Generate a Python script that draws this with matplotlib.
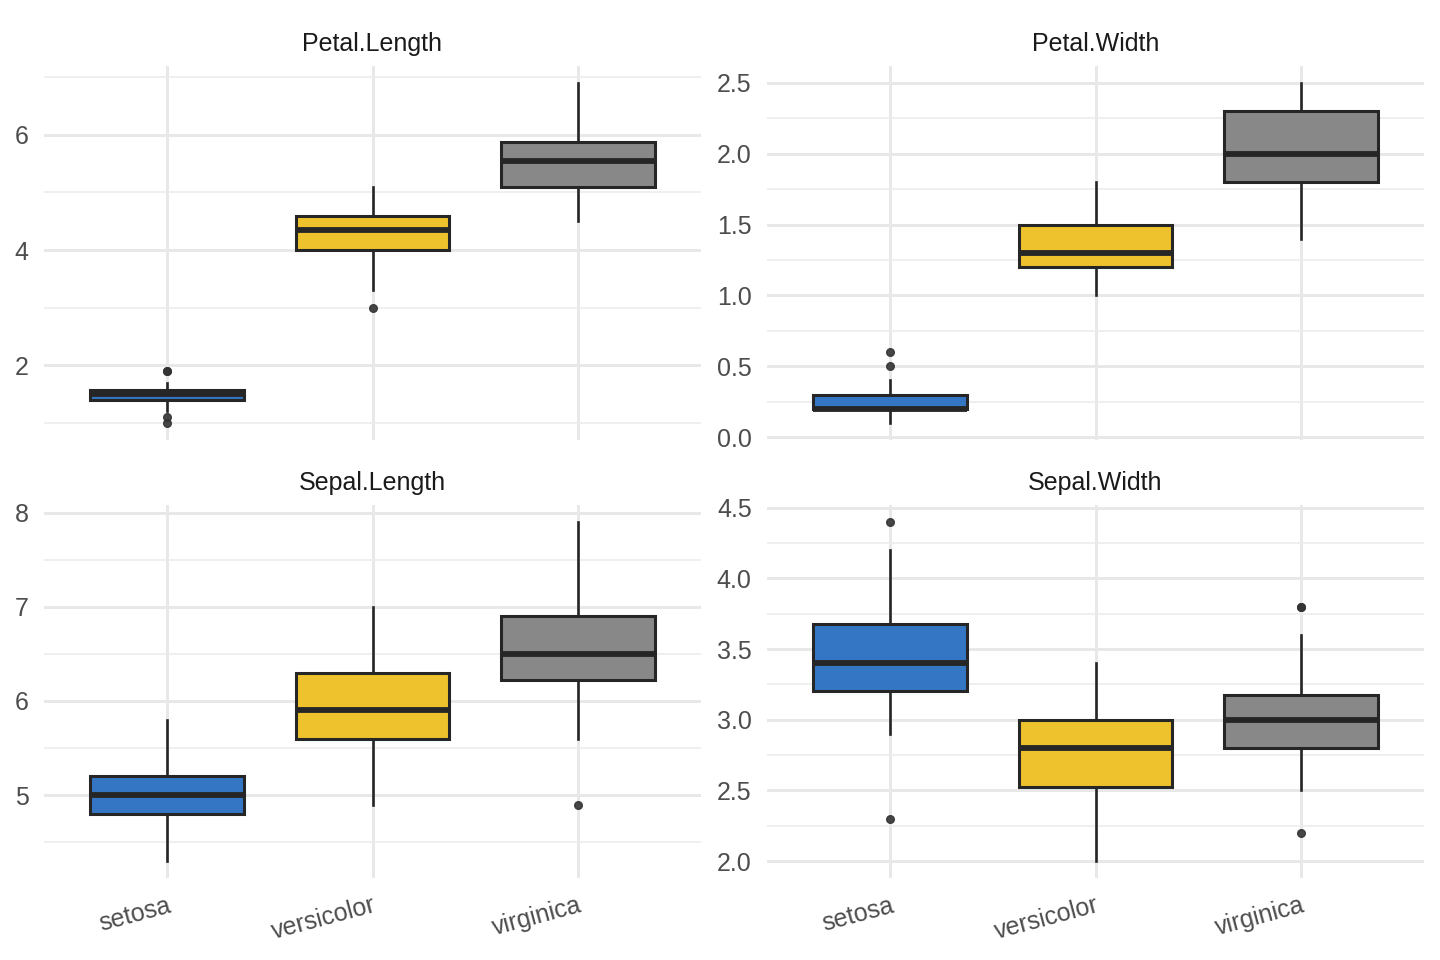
import matplotlib
matplotlib.use("Agg")
import matplotlib.pyplot as plt
from matplotlib.ticker import MultipleLocator

plt.rcParams['font.family'] = ['Liberation Sans', 'DejaVu Sans']

species = ['setosa', 'versicolor', 'virginica']
colors = ['#3576C4', '#EEC22C', '#888888']

# per measure: q1, median, q3, whisker low, whisker high, outliers (per species)
petal_length_q1 = [1.4, 4.0, 5.1]
petal_length_med = [1.5, 4.35, 5.55]
petal_length_q3 = [1.575, 4.6, 5.875]
petal_length_lo = [1.2, 3.3, 4.5]
petal_length_hi = [1.7, 5.1, 6.9]
petal_length_out = [[1.0, 1.1, 1.9, 1.9], [3.0], []]

petal_width_q1 = [0.2, 1.2, 1.8]
petal_width_med = [0.2, 1.3, 2.0]
petal_width_q3 = [0.3, 1.5, 2.3]
petal_width_lo = [0.1, 1.0, 1.4]
petal_width_hi = [0.4, 1.8, 2.5]
petal_width_out = [[0.5, 0.6], [], []]

sepal_length_q1 = [4.8, 5.6, 6.225]
sepal_length_med = [5.0, 5.9, 6.5]
sepal_length_q3 = [5.2, 6.3, 6.9]
sepal_length_lo = [4.3, 4.9, 5.6]
sepal_length_hi = [5.8, 7.0, 7.9]
sepal_length_out = [[], [], [4.9]]

sepal_width_q1 = [3.2, 2.525, 2.8]
sepal_width_med = [3.4, 2.8, 3.0]
sepal_width_q3 = [3.675, 3.0, 3.175]
sepal_width_lo = [2.9, 2.0, 2.5]
sepal_width_hi = [4.2, 3.4, 3.6]
sepal_width_out = [[4.4, 2.3], [], [3.8, 3.8, 2.2]]

panels = [
    ('Petal.Length', petal_length_q1, petal_length_med, petal_length_q3,
     petal_length_lo, petal_length_hi, petal_length_out, 2, (0.705, 7.195)),
    ('Petal.Width', petal_width_q1, petal_width_med, petal_width_q3,
     petal_width_lo, petal_width_hi, petal_width_out, 0.5, (-0.02, 2.62)),
    ('Sepal.Length', sepal_length_q1, sepal_length_med, sepal_length_q3,
     sepal_length_lo, sepal_length_hi, sepal_length_out, 1, (4.12, 8.08)),
    ('Sepal.Width', sepal_width_q1, sepal_width_med, sepal_width_q3,
     sepal_width_lo, sepal_width_hi, sepal_width_out, 0.5, (1.88, 4.52)),
]

W, H = 1440, 960
fig = plt.figure(figsize=(14.4, 9.6), dpi=100)

# panel boxes in pixels: (left, top, right, bottom)
boxes = [(44, 66, 701, 440), (767, 66, 1424, 440),
         (44, 505, 701, 878), (767, 505, 1424, 878)]

for i, (title, q1, med, q3, lo, hi, out, step, ylim) in enumerate(panels):
    l, t, r, b = boxes[i]
    ax = fig.add_axes([l / W, 1 - b / H, (r - l) / W, (b - t) / H])
    stats = []
    for k, sp in enumerate(species):
        stats.append(dict(label=sp, q1=q1[k], med=med[k], q3=q3[k],
                          whislo=lo[k], whishi=hi[k], fliers=out[k]))
    bp = ax.bxp(stats, positions=[1, 2, 3], widths=0.75, patch_artist=True,
                showcaps=False, manage_ticks=False,
                boxprops=dict(edgecolor='#262626', linewidth=2.2),
                medianprops=dict(color='#262626', linewidth=4.2,
                                 solid_capstyle='butt', zorder=5),
                whiskerprops=dict(color='#262626', linewidth=1.9),
                flierprops=dict(marker='o', markersize=5.5, markerfacecolor='#333333',
                                markeredgecolor='#333333', alpha=0.9))
    for patch, c in zip(bp['boxes'], colors):
        patch.set_facecolor(c)
        patch.set_zorder(4)
    ax.set_xlim(0.4, 3.6)
    ax.set_ylim(*ylim)
    ax.yaxis.set_major_locator(MultipleLocator(step))
    ax.yaxis.set_minor_locator(MultipleLocator(step / 2))
    ax.set_xticks([1, 2, 3])
    ax.grid(which='major', color='#E8E8E8', linewidth=2.1, zorder=0)
    ax.grid(which='minor', axis='y', color='#EBEBEB', linewidth=1.1, zorder=0)
    ax.set_axisbelow(True)
    for s in ax.spines.values():
        s.set_visible(False)
    ax.tick_params(which='both', length=0, labelsize=18, labelcolor='#4D4D4D')
    ax.tick_params(axis='y', pad=11)
    ax.set_title(title, fontsize=18, color='#1A1A1A', pad=11)
    if i < 2:
        ax.set_xticklabels([])
    else:
        ax.set_xticklabels(species, rotation=15, ha='right', rotation_mode='anchor')
        ax.tick_params(axis='x', pad=11)

fig.savefig('out.png', dpi=100)
